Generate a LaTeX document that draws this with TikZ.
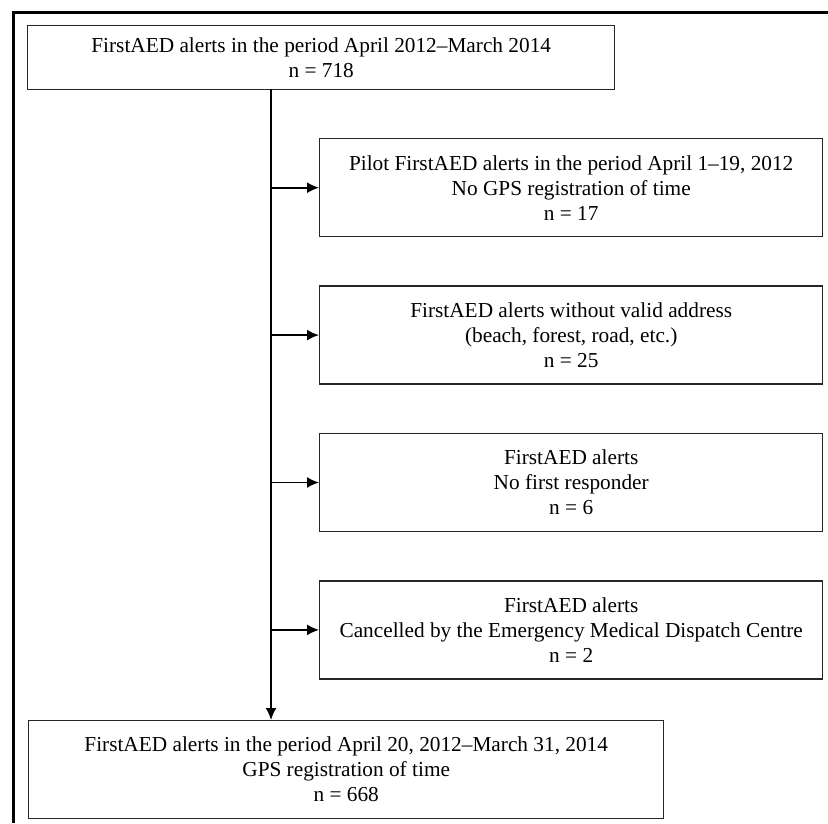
\documentclass[tikz,border=0pt]{standalone}
\usepackage{fontspec}
\setmainfont{Liberation Serif}
\usetikzlibrary{arrows.meta,positioning}
\tikzset{
  flowbox/.style={rectangle, draw=black!85, line width=0.7pt, align=center, inner sep=0pt,
                  font=\fontsize{10.65}{12.5}\selectfont, minimum height=#1},
  arr/.style={-{Latex[length=6pt,width=5.5pt]}, line width=0.85pt, draw=black},
  frame/.style={line width=1.75pt, draw=black},
}
\begin{document}
\begin{tikzpicture}[x=0.5pt, y=-0.5pt, node distance=24pt]
  \useasboundingbox (0,0) rectangle (828,823);
  \draw[frame] (828,12.5) -- (13.5,12.5) -- (13.5,823);
  \node[flowbox=32pt, minimum width=293.5pt, anchor=north west] at (27,25) (all)
    {FirstAED alerts in the period April 2012–March 2014\\n = 718};
  \node[flowbox=49pt, minimum width=251.5pt, anchor=north west] at (319,138) (pilot)
    {Pilot FirstAED alerts in the period April 1–19, 2012\\No GPS registration of time\\n = 17};
  \node[flowbox=49pt, minimum width=251.5pt, below=of pilot] (addr)
    {FirstAED alerts without valid address\\(beach, forest, road, etc.)\\n = 25};
  \node[flowbox=49pt, minimum width=251.5pt, below=of addr] (noresp)
    {FirstAED alerts\\No first responder\\n = 6};
  \node[flowbox=49pt, minimum width=251.5pt, below=of noresp] (cancel)
    {FirstAED alerts\\Cancelled by the Emergency Medical Dispatch Centre\\n = 2};
  \node[flowbox=49pt, minimum width=317.5pt, anchor=north west] at (28,720) (incl)
    {FirstAED alerts in the period April 20, 2012–March 31, 2014\\GPS registration of time\\n = 668};
  \coordinate (trunk) at (271,89);
  \draw[arr] (trunk) -- (trunk |- incl.north);
  \draw[arr] (trunk |- pilot.west) -- (pilot.west);
  \draw[arr] (trunk |- addr.west) -- (addr.west);
  \draw[arr] (trunk |- noresp.west) -- (noresp.west);
  \draw[arr] (trunk |- cancel.west) -- (cancel.west);
\end{tikzpicture}
\end{document}
